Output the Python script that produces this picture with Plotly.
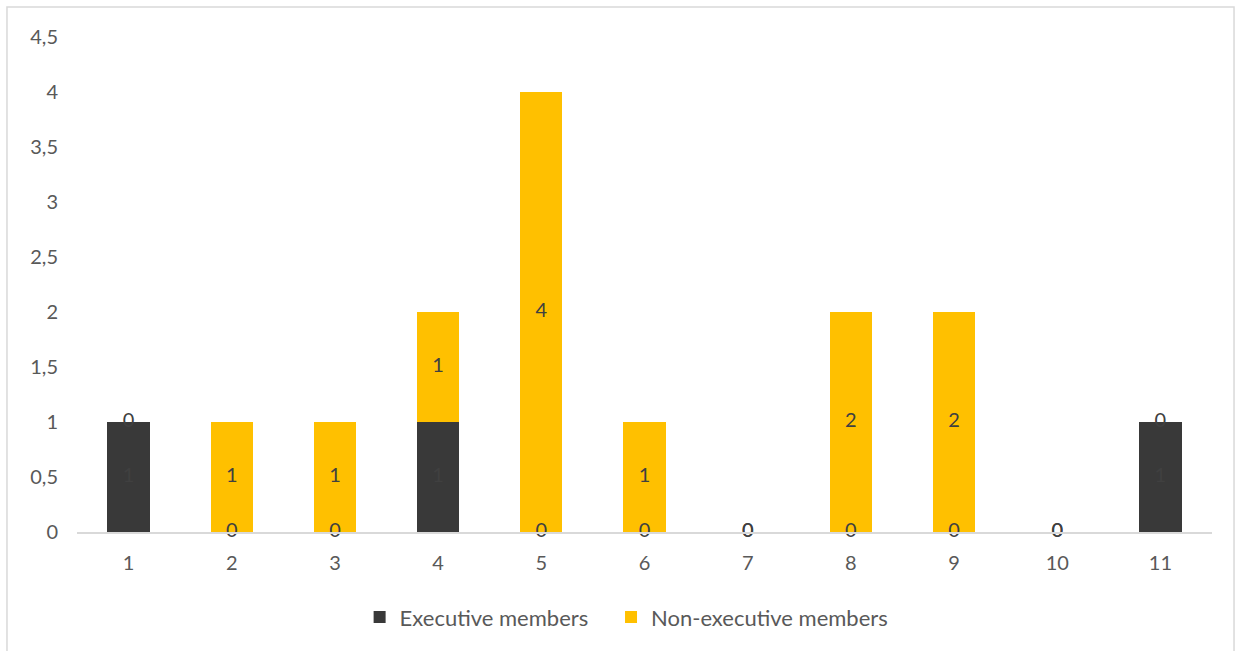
import plotly.graph_objects as go

categories = ["1", "2", "3", "4", "5", "6", "7", "8", "9", "10", "11"]
executive = [1, 0, 0, 1, 0, 0, 0, 0, 0, 0, 1]
non_executive = [0, 1, 1, 1, 4, 1, 0, 2, 2, 0, 0]
y_ticks = [0, 0.5, 1, 1.5, 2, 2.5, 3, 3.5, 4, 4.5]
y_tick_text = ["0", "0,5", "1", "1,5", "2", "2,5", "3", "3,5", "4", "4,5"]

EXEC_COLOR = "#393939"
NONEXEC_COLOR = "#FFC000"
AXIS_TEXT = "#595959"
LABEL_TEXT = "#404040"
FONT = "Lato, Carlito, 'Open Sans', sans-serif"

fig = go.Figure()
fig.add_trace(go.Bar(x=categories, y=executive, name="Executive members",
                     marker=dict(color=EXEC_COLOR, line=dict(width=0)), legend="legend"))
fig.add_trace(go.Bar(x=categories, y=non_executive, name="Non-executive members",
                     marker=dict(color=NONEXEC_COLOR, line=dict(width=0)), legend="legend2"))

# value labels at the centre of each stacked segment (zero segments sit on their base)
exec_mid = [v / 2 for v in executive]
nonexec_mid = [e + n / 2 for e, n in zip(executive, non_executive)]
fig.add_trace(go.Scatter(x=categories, y=exec_mid, mode="text",
                         text=[str(v) for v in executive],
                         textfont=dict(color=LABEL_TEXT, size=20, family=FONT),
                         showlegend=False, hoverinfo="skip", cliponaxis=False))
fig.add_trace(go.Scatter(x=categories, y=nonexec_mid, mode="text",
                         text=[str(v) for v in non_executive],
                         textfont=dict(color=LABEL_TEXT, size=20, family=FONT),
                         showlegend=False, hoverinfo="skip", cliponaxis=False))

legend_style = dict(orientation="h", xanchor="left", y=-0.172, yanchor="middle",
                    font=dict(size=22, color=AXIS_TEXT), itemwidth=30)

fig.update_layout(
    barmode="stack",
    bargap=0.59,
    width=1241, height=651,
    margin=dict(l=77, r=29, t=37, b=119, autoexpand=False),
    paper_bgcolor="white", plot_bgcolor="white",
    font=dict(family=FONT, size=20, color=AXIS_TEXT),
    legend=dict(x=0.249, **legend_style),
    legend2=dict(x=0.4705, **legend_style),
    xaxis=dict(range=[-0.5, len(categories) - 0.5],
               showgrid=False, showline=True, linecolor="#d9d9d9", linewidth=1.5,
               ticks="", tickfont=dict(size=20, color=AXIS_TEXT), ticklabelstandoff=12),
    yaxis=dict(range=[0, 4.5], tickvals=y_ticks, ticktext=y_tick_text,
               showgrid=False, zeroline=False, showline=False, ticks="",
               tickfont=dict(size=20, color=AXIS_TEXT), ticklabelstandoff=18),
    shapes=[dict(type="rect", xref="paper", yref="paper",
                 x0=-0.0617, x1=1.0194, y0=-0.27, y1=1.0606,
                 line=dict(color="#d9d9d9", width=1.5), fillcolor="rgba(0,0,0,0)",
                 layer="below")],
)

fig.write_html("out.html")
